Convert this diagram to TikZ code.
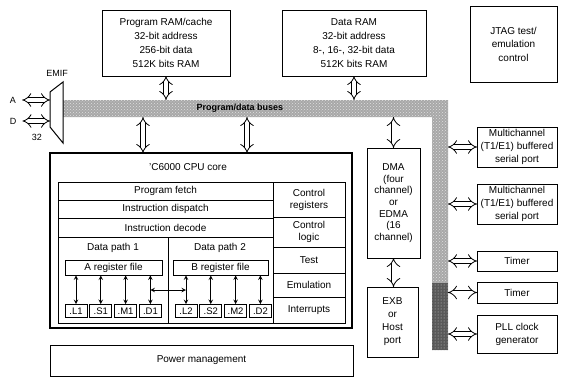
\documentclass[tikz,border=0pt]{standalone}
\usepackage{fontspec}
\setmainfont{Liberation Sans}
\usetikzlibrary{positioning,arrows.meta,patterns}

\begin{document}
\begin{tikzpicture}[>=stealth,x=1pt,y=-1pt,node distance=2pt]
  \tikzstyle{blk}=[draw,line width=0.9pt,inner sep=0pt,outer sep=0pt,
    align=center,anchor=north west,font=\fontsize{10}{14}\selectfont]
  \tikzstyle{unit}=[draw,line width=0.8pt,minimum width=22pt,minimum height=13pt,
    inner sep=0pt,font=\fontsize{9.5}{11}\selectfont]
  \tikzstyle{fat}=[double,double distance=4pt,line width=0.8pt,{Implies[scale=1.3]}-{Implies[scale=1.3]}]
  \tikzstyle{txt}=[inner sep=0pt,font=\fontsize{10}{13}\selectfont,align=center]
  \useasboundingbox (0,0) rectangle (563,378);

  % memories and test port
  \node[blk,minimum width=128pt,minimum height=66pt] (pram) at (102,10)
    {Program RAM/cache\\32-bit address\\256-bit data\\512K bits RAM};
  \node[blk,minimum width=144pt,minimum height=66pt] (dram) at (282,10)
    {Data RAM\\32-bit address\\8-, 16-, 32-bit data\\512K bits RAM};
  \node[blk,minimum width=87pt,minimum height=76pt,font=\fontsize{10}{13.5}\selectfont] (jtag) at (470,6)
    {JTAG test/\\emulation\\control};

  % buses
  \fill[gray!68] (63,100) -- (448,100) -- (448,350) -- (432,350) -- (432,117) -- (63,117) -- cycle;
  \fill[pattern=crosshatch dots,pattern color=gray!25]
    (63,100) -- (448,100) -- (448,350) -- (432,350) -- (432,117) -- (63,117) -- cycle;
  \fill[gray!70!black] (432,283) rectangle (448,350);
  \fill[pattern=dots,pattern color=gray!35] (432,283) rectangle (448,350);
  \node[txt,font=\fontsize{9}{10}\selectfont\bfseries] (busname) at (240,108) {Program/data buses};
  \coordinate (bustop) at (0,100);
  \coordinate (busbot) at (0,117);
  \coordinate (busedge) at (448,0);
  \coordinate (tap1) at (143,117);
  \coordinate (tap2) at (247,117);

  % external memory interface
  \draw[line width=1pt,fill=white] (50,92) -- (63,82) -- (63,143) -- (50,127) -- cycle;
  \node[txt,font=\fontsize{9}{10}\selectfont] (emif) at (57,73) {EMIF};
  \node[txt,font=\fontsize{9}{10}\selectfont] (A) at (13,100) {A};
  \node[txt,font=\fontsize{9}{10}\selectfont] (D) at (13,121) {D};
  \node[txt,font=\fontsize{9}{10}\selectfont] (bits) at (37,137) {32};
  \coordinate (emifA) at (50,100);
  \coordinate (emifD) at (50,121);

  % CPU core
  \node[blk,line width=1.5pt,minimum width=302pt,minimum height=175pt] (cpu) at (50,153) {};
  \node[txt] (cputitle) at (188,167) {'C6000 CPU core};
  \node[blk,minimum width=215pt,minimum height=18pt] (fetch) at (58,182) {Program fetch};
  \node[blk,minimum width=215pt,minimum height=18pt] (disp) at (58,200) {Instruction dispatch};
  \node[blk,minimum width=215pt,minimum height=19pt] (dec) at (58,218) {Instruction decode};
  \node[blk,minimum width=110pt,minimum height=86pt] (dp1) at (58,237) {};
  \node[blk,minimum width=105pt,minimum height=86pt] (dp2) at (168,237) {};
  \node[txt] (dp1name) at (113,248) {Data path 1};
  \node[txt] (dp2name) at (220,248) {Data path 2};
  \node[blk,minimum width=72pt,minimum height=35pt,font=\fontsize{10}{12}\selectfont] (creg) at (273,182) {Control\\registers};
  \node[blk,minimum width=72pt,minimum height=30pt,font=\fontsize{10}{12}\selectfont] (clog) at (273,217) {Control\\logic};
  \node[blk,minimum width=72pt,minimum height=26pt] (test) at (273,247) {Test};
  \node[blk,minimum width=72pt,minimum height=24pt] (emu) at (273,273) {Emulation};
  \node[blk,minimum width=72pt,minimum height=26pt] (intr) at (273,297) {Interrupts};

  % register files and functional units
  \node[unit,minimum width=97pt,minimum height=15pt,font=\fontsize{10}{12}\selectfont] (areg) at (113.5,267.5) {A register file};
  \node[unit,minimum width=95pt,minimum height=15pt,font=\fontsize{10}{12}\selectfont] (breg) at (220.5,267.5) {B register file};
  \node[unit] (l1) at (76,311) {.L1};
  \node[unit,right=of l1] (s1) {.S1};
  \node[unit,right=of s1] (m1) {.M1};
  \node[unit,right=of m1] (d1) {.D1};
  \node[unit] (l2) at (186,311) {.L2};
  \node[unit,right=of l2] (s2) {.S2};
  \node[unit,right=of s2] (m2) {.M2};
  \node[unit,right=of m2] (d2) {.D2};
  \foreach \u in {l1,s1,m1,d1}
    \draw[<->,line width=1pt] (\u.north |- areg.south) -- (\u.north);
  \foreach \u in {l2,s2,m2,d2}
    \draw[<->,line width=1pt] (\u.north |- breg.south) -- (\u.north);
  \coordinate (xpath) at (0,290);
  \draw[<->,line width=1pt] (d1.north |- xpath) -- (l2.north |- xpath);

  \node[blk,minimum width=303pt,minimum height=31pt] (pwr) at (50,345) {Power management};

  % DMA and host port
  \node[blk,minimum width=53pt,minimum height=110pt,font=\fontsize{10}{11.7}\selectfont] (dma) at (367,148)
    {DMA\\(four\\channel)\\or\\EDMA\\(16\\channel)};
  \node[blk,minimum width=51pt,minimum height=70pt,font=\fontsize{10}{13}\selectfont] (exb) at (367,287)
    {EXB\\or\\Host\\port};

  % peripherals
  \node[blk,minimum width=80pt,minimum height=40pt,font=\fontsize{10}{13}\selectfont] (mc1) at (477,127)
    {Multichannel\\(T1/E1) buffered\\serial port};
  \node[blk,minimum width=80pt,minimum height=40pt,font=\fontsize{10}{13}\selectfont] (mc2) at (477,184)
    {Multichannel\\(T1/E1) buffered\\serial port};
  \node[blk,minimum width=80pt,minimum height=20pt] (tim1) at (477,251) {Timer};
  \node[blk,minimum width=80pt,minimum height=21pt] (tim2) at (477,282) {Timer};
  \node[blk,minimum width=80pt,minimum height=38pt,font=\fontsize{10}{13}\selectfont] (pll) at (477,315)
    {PLL clock\\generator};

  % bus connections
  \draw[fat] (pram.south) -- (pram.south |- bustop);
  \draw[fat] (dram.south) -- (dram.south |- bustop);
  \draw[fat] (tap1) -- (tap1 |- cpu.north);
  \draw[fat] (tap2) -- (tap2 |- cpu.north);
  \draw[fat] (dma.north |- busbot) -- (dma.north);
  \draw[fat] (dma.south) -- (dma.south |- exb.north);
  \foreach \p in {mc1,mc2,tim1,tim2,pll}
    \draw[fat] (busedge |- \p.west) -- (\p.west);
  \draw[fat] ([xshift=6pt]A.east) -- (emifA);
  \draw[fat] ([xshift=6pt]D.east) -- (emifD);
\end{tikzpicture}
\end{document}
